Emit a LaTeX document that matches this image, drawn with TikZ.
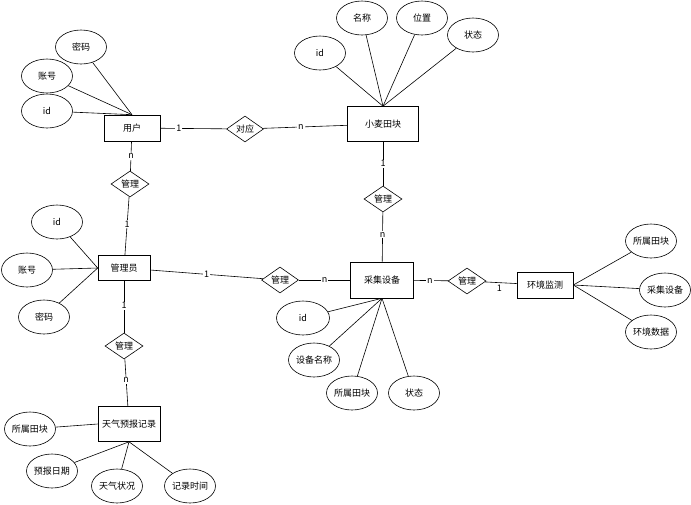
\documentclass[tikz,border=0pt]{standalone}
\usepackage{fontspec}
\setmainfont{Noto Sans CJK SC}
\usepackage{tikz}
\usetikzlibrary{shapes.geometric}

\begin{document}
\begin{tikzpicture}[x=1pt, y=-1pt, semithick]
            \tikzset{
                entity/.style={draw, rectangle, inner sep=0pt, minimum width=56pt, minimum height=26pt, font=\fontsize{9}{11}\selectfont},
                attr/.style={draw, ellipse, inner sep=0pt, minimum width=51pt, minimum height=34pt, font=\fontsize{9}{11}\selectfont},
                rel/.style={draw, diamond, aspect=1.5, inner sep=0pt, minimum width=38pt, minimum height=26pt, font=\fontsize{9}{11}\selectfont},
                card/.style={fill=white, inner sep=1pt, font=\fontsize{9}{11}\selectfont}
            };
            \useasboundingbox (0, 0) rectangle (691, 504);
            \node[entity] (user) at (132, 128) {用户};
            \node[entity, minimum width=71pt, minimum height=35pt] (field) at (383, 124) {小麦田块};
            \node[entity, minimum width=52pt, minimum height=25pt] (admin) at (124, 268) {管理员};
            \node[entity, minimum width=63pt, minimum height=36pt] (device) at (382, 280) {采集设备};
            \node[entity] (env) at (545, 285) {环境监测};
            \node[entity, minimum width=62pt, minimum height=35pt] (weather) at (129, 424) {天气预报记录};
            \node[rel, minimum width=37pt] (match) at (245, 129) {对应};
            \node[rel] (r1) at (130, 184) {管理};
            \node[rel] (r2) at (383, 199) {管理};
            \node[rel, minimum width=37pt] (r3) at (280, 280) {管理};
            \node[rel] (r4) at (467, 281) {管理};
            \node[rel] (r5) at (124, 346) {管理};
            \node[attr] (uid) at (47, 111) {id};
            \node[attr] (uacc) at (47, 76) {账号};
            \node[attr] (upwd) at (81, 47) {密码};
            \node[attr] (fid) at (320, 53) {id};
            \node[attr] (fname) at (362, 18) {名称};
            \node[attr] (fpos) at (422, 18) {位置};
            \node[attr] (fstate) at (473, 35) {状态};
            \node[attr] (aid) at (57, 222) {id};
            \node[attr] (aacc) at (27, 270) {账号};
            \node[attr] (apwd) at (44, 317) {密码};
            \node[attr] (wfield) at (30, 429) {所属田块};
            \node[attr] (wdate) at (52, 471) {预报日期};
            \node[attr] (wsky) at (117, 486) {天气状况};
            \node[attr] (wtime) at (190, 486) {记录时间};
            \node[attr, minimum width=53pt] (did) at (303, 318) {id};
            \node[attr] (dname) at (314, 360) {设备名称};
            \node[attr] (dfield) at (352, 393) {所属田块};
            \node[attr] (dstate) at (414, 393) {状态};
            \node[attr] (efield) at (651, 241) {所属田块};
            \node[attr] (edev) at (665, 290) {采集设备};
            \node[attr] (edata) at (651, 332) {环境数据};
            \draw (uid) -- (user.north);
            \draw (uacc) -- (user.north);
            \draw (upwd) -- (user.north);
            \draw (fid) -- (field.north);
            \draw (fname) -- (field.north);
            \draw (fpos) -- (field.north);
            \draw (fstate) -- (field.north);
            \draw (aid) -- (admin.west);
            \draw (aacc) -- (admin.west);
            \draw (apwd) -- (admin.west);
            \draw (wfield) -- (weather.west);
            \draw (wdate) -- (weather.south);
            \draw (wsky) -- (weather.south);
            \draw (wtime) -- (weather.south);
            \draw (did) -- (device.south);
            \draw (dname) -- (device.south);
            \draw (dfield) -- (device.south);
            \draw (dstate) -- (device.south);
            \draw (efield) -- (env.east);
            \draw (edev) -- (env.east);
            \draw (edata) -- (env.east);
            \draw (user) -- (match) node[card, pos=0.28] {1};
            \draw (match) -- (field) node[card, pos=0.45] {n};
            \draw (user) -- (r1) node[card, midway] {n};
            \draw (r1) -- (admin) node[card, pos=0.47] {1};
            \draw (field) -- (r2) node[card, midway] {1};
            \draw (r2) -- (device) node[card, pos=0.46] {n};
            \draw (admin) -- (r3) node[card, midway] {1};
            \draw (r3) -- (device) node[card, midway] {n};
            \draw (device) -- (r4) node[card, pos=0.47] {n};
            \draw (r4) -- (env) node[below, pos=0.45, inner sep=2pt, font=\fontsize{9}{11}\selectfont] {1};
            \draw (admin) -- (r5) node[card, pos=0.48] {1};
            \draw (r5) -- (weather) node[card, pos=0.45] {n};
        \end{tikzpicture}
\end{document}
